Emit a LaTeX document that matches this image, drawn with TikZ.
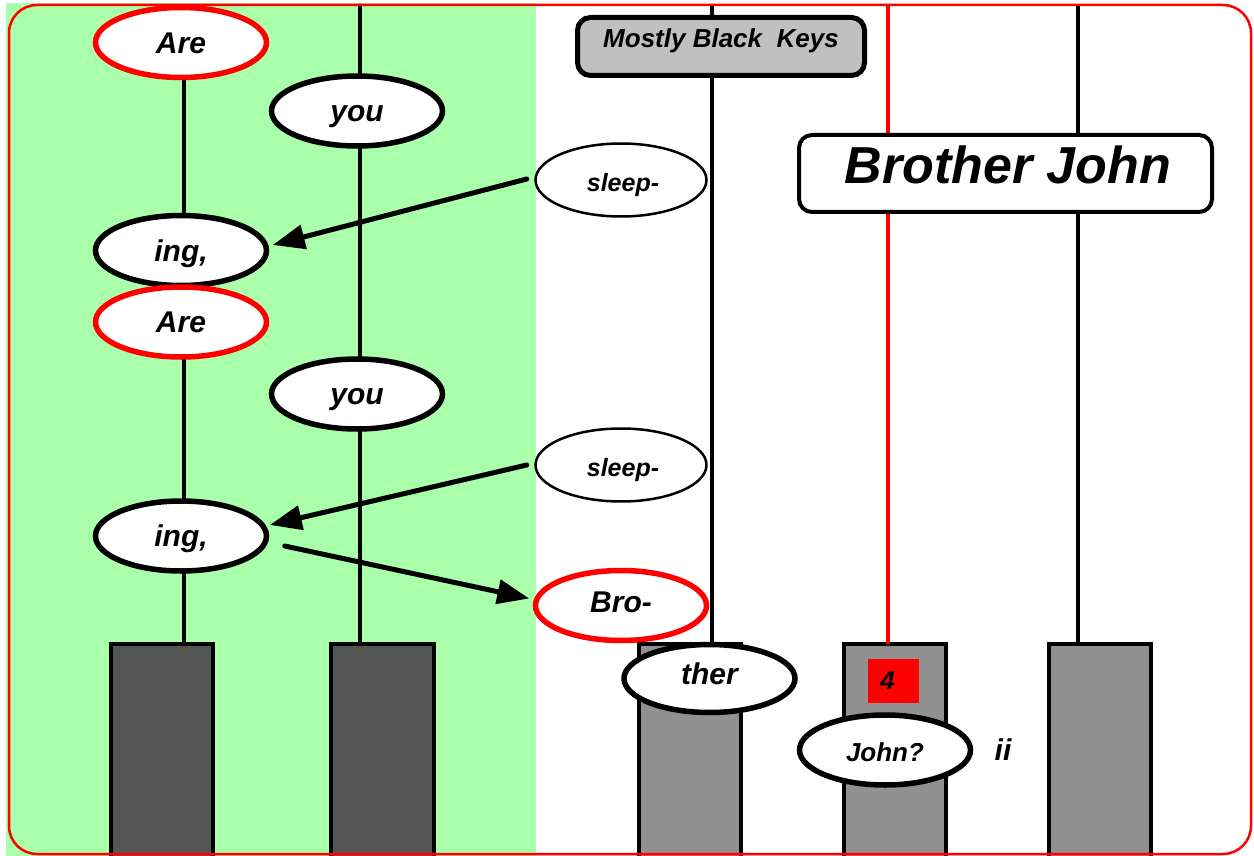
\documentclass[tikz,border=0pt]{standalone}
\usepackage{fontspec}
\setmainfont{Liberation Sans}
\usetikzlibrary{shapes.geometric,arrows.meta,calc}
\definecolor{bggreen}{RGB}{170,255,170}
\definecolor{darkkey}{RGB}{85,85,85}
\definecolor{lightkey}{RGB}{145,145,145}
\definecolor{labelgray}{RGB}{192,192,192}
\begin{document}
\begin{tikzpicture}[x=1pt,y=-1pt,
  bi/.style={font=\fontsize{#1}{#1}\selectfont\bfseries\itshape},
  syl/.style={ellipse, draw=black, line width=5.5pt, fill=white,
    minimum width=171pt, minimum height=70pt, inner sep=0pt,
    text height=21.5pt, text depth=0pt, bi=30},
  sylred/.style={syl, draw=red},
  sylthin/.style={syl, line width=2.5pt, minimum height=73pt,
    text height=23pt, bi=25},
  pianokey/.style={draw=black, line width=4pt, inner sep=0pt, outer sep=0pt,
    anchor=north west, minimum width=102pt, minimum height=226pt},
  vline/.style={draw=black, line width=3.5pt},
  arr/.style={draw=black, line width=5pt, line cap=round,
    -{Triangle[length=32pt,width=24pt]}},
  titlebox/.style={draw=black, rounded corners=13pt, inner sep=0pt}
]
\useasboundingbox (0,0) rectangle (1254,856);
\fill[white] (0,0) rectangle (1254,856);
\fill[bggreen] (6,3) rectangle (536,856);

% keys
\node[pianokey, fill=darkkey] (k1) at (111,644) {};
\node[pianokey, fill=darkkey, minimum width=103pt] (k2) at (331,644) {};
\node[pianokey, fill=lightkey] (k3) at (639,644) {};
\node[pianokey, fill=lightkey] (k4) at (844,644) {};
\node[pianokey, fill=lightkey] (k5) at (1049,644) {};

% vertical lines
\coordinate (v1) at (184,42);
\coordinate (v2) at (360,5);
\coordinate (v3) at (712,5);
\coordinate (v4) at (888,5);
\coordinate (v5) at (1078,5);
\draw[vline] (v1) -- (v1 |- k1.north);
\draw[vline] (v2) -- (v2 |- k2.north);
\draw[vline] (v3) -- (v3 |- k3.north);
\draw[vline, draw=red] (v4) -- (v4 |- k4.north);
\draw[vline] (v5) -- (v5 |- k5.north);

% boxes
\node[titlebox, line width=5pt, fill=labelgray, minimum width=287pt,
  minimum height=58pt, bi=26] (mbk) at (721,46.5)
  {\smash{\raisebox{-1.5pt}{Mostly Black\ \ Keys}}};
\node[titlebox, line width=4pt, fill=white, minimum width=413pt,
  minimum height=77pt, bi=52] (bj) at (1005.5,173.5)
  {\smash{\raisebox{-9.8pt}{\hspace{5pt}Brother John}}};

% syllables
\node[sylred] (are1) at (181,42.5) {Are};
\node[syl] (you1) at (357,111) {you};
\node[sylthin] (s1) at (621,180) {\hspace*{4pt}sleep-};
\node[syl] (ing1) at (181,250.5) {ing,};
\node[sylred] (are2) at (181,322) {Are};
\node[syl] (you2) at (357,394) {you};
\node[sylthin] (s2) at (621,465) {\hspace*{4pt}sleep-};
\node[syl] (ing2) at (181,536) {ing,};
\node[sylred, text height=14pt] (bro) at (621,605.5) {Bro-};
\node[syl, text height=11pt, minimum height=68pt] (ther) at (709.5,678.5) {ther};
\node[fill=red, minimum width=51pt, minimum height=44pt, inner sep=0pt,
  bi=26] (four) at (893.5,681) {\hspace*{-12pt}4};
\node[syl, text height=23pt, bi=26] (john) at (885,750) {John?};
\node[bi=30, inner sep=0pt] (ii) at (1003,750) {ii};

% arrows
\draw[arr] ($(s1.west)+(-7.5,-1)$) -- ($(ing1.east)+(3.5,-5.5)$);
\draw[arr] ($(s2.west)+(-7.5,0)$) -- ($(ing2.east)+(0.5,-11)$);
\draw[arr] ($(ing2.east)+(15.5,10)$) -- ($(bro.west)+(-3.5,-7)$);

% outer frame
\draw[red, line width=2.5pt, rounded corners=28pt] (9,5) rectangle (1251,854);
\end{tikzpicture}
\end{document}
